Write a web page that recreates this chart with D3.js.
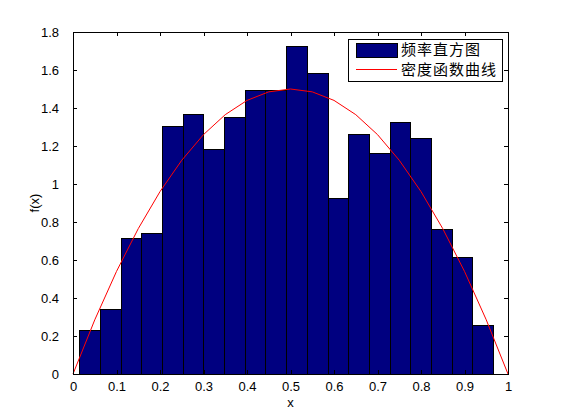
<!DOCTYPE html>
<html>
<head>
<meta charset="utf-8">
<script src="https://cdn.jsdelivr.net/npm/d3@7"></script>
<style>
  body { margin: 0; background: #fff; }
  svg { display: block; }
</style>
</head>
<body>
<div id="chart"></div>
<script>
// histogram bins
const binStart = 0.0154;
const binWidth = 0.04758;
const freqValues = [0.231, 0.337, 0.714, 0.737, 1.305, 1.367, 1.179, 1.349, 1.493, 1.493,
                    1.726, 1.579, 0.925, 1.263, 1.158, 1.326, 1.242, 0.758, 0.611, 0.253];

// density curve points
const curveX = [0, 0.05, 0.1, 0.15, 0.2, 0.25, 0.3, 0.35, 0.4, 0.45, 0.5,
                0.55, 0.6, 0.65, 0.7, 0.75, 0.8, 0.85, 0.9, 0.95, 1];
const curveY = [0, 0.285, 0.54, 0.765, 0.96, 1.125, 1.26, 1.365, 1.44, 1.485, 1.5,
                1.485, 1.44, 1.365, 1.26, 1.125, 0.96, 0.765, 0.54, 0.285, 0];

const xTicks = [0, 0.1, 0.2, 0.3, 0.4, 0.5, 0.6, 0.7, 0.8, 0.9, 1];
const yTicks = [0, 0.2, 0.4, 0.6, 0.8, 1, 1.2, 1.4, 1.6, 1.8];
const legendLabels = ['频率直方图', '密度函数曲线'];

const width = 561, height = 420;
const margin = {top: 32, right: 53, bottom: 46, left: 73};
const font = '"Liberation Sans", Arial, sans-serif';
const cjkFont = '"Noto Sans CJK SC", sans-serif';

const x = d3.scaleLinear().domain([0, 1]).range([margin.left, width - margin.right]);
const y = d3.scaleLinear().domain([0, 1.8]).range([height - margin.bottom, margin.top]);

const svg = d3.select('#chart').append('svg')
  .attr('width', width)
  .attr('height', height);

svg.append('rect').attr('width', width).attr('height', height).attr('fill', '#fff');

// bars
const bins = freqValues.map((v, i) => ({x0: binStart + i * binWidth, x1: binStart + (i + 1) * binWidth, v}));
svg.append('g')
  .selectAll('rect')
  .data(bins)
  .join('rect')
  .attr('x', d => x(d.x0))
  .attr('y', d => y(d.v))
  .attr('width', d => x(d.x1) - x(d.x0))
  .attr('height', d => y(0) - y(d.v))
  .attr('fill', '#000080')
  .attr('stroke', '#000')
  .attr('stroke-width', 1)
  .attr('shape-rendering', 'crispEdges');

// density curve
const line = d3.line().x(d => x(d[0])).y(d => y(d[1]));
svg.append('path')
  .datum(d3.zip(curveX, curveY))
  .attr('d', line)
  .attr('fill', 'none')
  .attr('stroke', '#ff0000')
  .attr('stroke-width', 1);

// axes, ticks inward, mirrored on top/right
const tickLen = 4;
const xAxis = g => g.attr('transform', `translate(0,${y(0)})`)
  .call(d3.axisBottom(x).tickValues(xTicks).tickSizeInner(-tickLen).tickSizeOuter(0).tickPadding(8).tickFormat(d3.format('~g')))
  .call(g => g.select('.domain').remove());
const xAxisTop = g => g.attr('transform', `translate(0,${y(1.8)})`)
  .call(d3.axisTop(x).tickValues(xTicks).tickSizeInner(-tickLen).tickSizeOuter(0).tickFormat(''))
  .call(g => g.select('.domain').remove());
const yAxis = g => g.attr('transform', `translate(${x(0)},0)`)
  .call(d3.axisLeft(y).tickValues(yTicks).tickSizeInner(-tickLen).tickSizeOuter(0).tickPadding(14).tickFormat(d3.format('~g')))
  .call(g => g.select('.domain').remove());
const yAxisRight = g => g.attr('transform', `translate(${x(1)},0)`)
  .call(d3.axisRight(y).tickValues(yTicks).tickSizeInner(-tickLen).tickSizeOuter(0).tickFormat(''))
  .call(g => g.select('.domain').remove());

[xAxis, xAxisTop, yAxis, yAxisRight].forEach(a => {
  svg.append('g').call(a)
    .call(g => g.selectAll('text').attr('font-family', font).attr('font-size', 13).attr('fill', '#000'))
    .call(g => g.selectAll('line').attr('stroke', '#000').attr('shape-rendering', 'crispEdges'));
});

// frame
svg.append('rect')
  .attr('x', x(0)).attr('y', y(1.8))
  .attr('width', x(1) - x(0)).attr('height', y(0) - y(1.8))
  .attr('fill', 'none').attr('stroke', '#000').attr('shape-rendering', 'crispEdges');

// axis labels
svg.append('text')
  .attr('x', (x(0) + x(1)) / 2).attr('y', 407)
  .attr('text-anchor', 'middle')
  .attr('font-family', font).attr('font-size', 13)
  .text('x');
svg.append('text')
  .attr('transform', `translate(39,${(y(0) + y(1.8)) / 2}) rotate(-90)`)
  .attr('text-anchor', 'middle')
  .attr('font-family', font).attr('font-size', 13)
  .text('f(x)');

// legend
const lg = svg.append('g').attr('transform', 'translate(348,39)');
lg.append('rect')
  .attr('width', 154).attr('height', 42)
  .attr('fill', '#fff').attr('stroke', '#000').attr('shape-rendering', 'crispEdges');
lg.append('rect')
  .attr('x', 8).attr('y', 4).attr('width', 41).attr('height', 14)
  .attr('fill', '#000080').attr('stroke', '#000').attr('shape-rendering', 'crispEdges');
lg.append('line')
  .attr('x1', 8).attr('x2', 49).attr('y1', 30.5).attr('y2', 30.5)
  .attr('stroke', '#ff0000');
lg.selectAll('text.lbl')
  .data(legendLabels)
  .join('text')
  .attr('class', 'lbl')
  .attr('x', 53)
  .attr('y', (d, i) => 16 + i * 19.5)
  .attr('font-family', cjkFont).attr('font-size', 15)
  .attr('letter-spacing', 1)
  .text(d => d);
</script>
</body>
</html>
